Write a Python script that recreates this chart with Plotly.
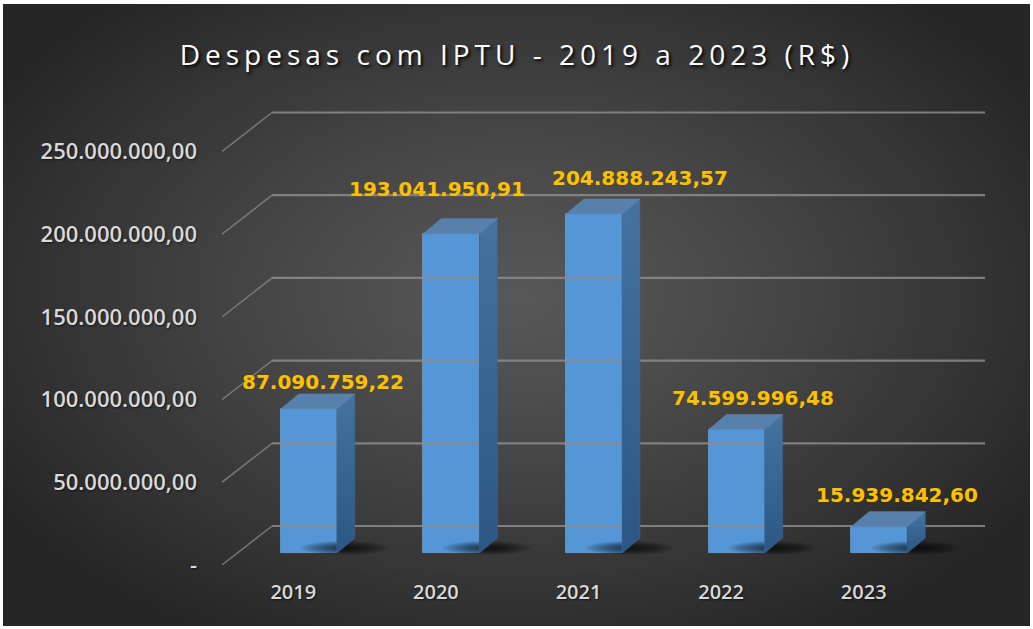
import base64
import struct
import zlib

import numpy as np
import plotly.graph_objects as go

# ---------------- data ----------------
YEARS = ["2019", "2020", "2021", "2022", "2023"]
VALUES = [87090759.22, 193041950.91, 204888243.57, 74599996.48, 15939842.60]
Y_TICKS = [0, 50e6, 100e6, 150e6, 200e6, 250e6]
Y_TICK_TEXT = ["-", "50.000.000,00", "100.000.000,00", "150.000.000,00",
               "200.000.000,00", "250.000.000,00"]
TITLE = "Despesas com IPTU - 2019 a 2023 (R$)"


def fmt_br(v):
    s = f"{v:,.2f}"
    return s.replace(",", "X").replace(".", ",").replace("X", ".")


LABELS = [fmt_br(v) for v in VALUES]

# ---------------- geometry (pixels -> axis units) ----------------
W, H = 1033, 629
PX_CAT = 142.6               # px per category
PX_VAL = 82.7 / 50e6         # px per real
LEFT_PX = 222                # front-plane left edge
BOTTOM_PX = 578              # bottom of plot area
ZERO_PX = 565                # front plane zero

DX = 50 / PX_CAT             # wall depth (x)
DV = 39 / PX_VAL             # wall depth (value)
FO_X, FO_V = 15.5 / PX_CAT, 12 / PX_VAL   # bar front-face offset
BD_X, BD_V = 18 / PX_CAT, 15 / PX_VAL     # bar depth
BW = 56 / PX_CAT                           # bar width

x_range = [-0.5, -0.5 + (W - LEFT_PX) / PX_CAT]
y_range = [-(BOTTOM_PX - ZERO_PX) / PX_VAL, ZERO_PX / PX_VAL]

LABEL_DX = [5, -23, 37, 7, 9]
LABEL_DY = [12, 30, 21, 17, 17]

# ---------------- background gradient image ----------------
gw, gh = 207, 126
yy, xx = np.mgrid[0:gh, 0:gw]
dx = (xx / (gw - 1) - 0.5) / 0.5
dy = (yy / (gh - 1) - 0.47) / 0.53
r = np.sqrt(dx ** 2 + dy ** 2) / np.sqrt(2)
t = np.clip(r / 0.85, 0, 1) ** 1.2
c = (88 - 50 * t).astype(np.uint8)
rgb = np.stack([c, c, c], axis=-1)
raw = b"".join(b"\x00" + rgb[i].tobytes() for i in range(gh))


def chunk(tag, data):
    return (struct.pack(">I", len(data)) + tag + data +
            struct.pack(">I", zlib.crc32(tag + data) & 0xffffffff))


png = (b"\x89PNG\r\n\x1a\n" +
       chunk(b"IHDR", struct.pack(">IIBBBBB", gw, gh, 8, 2, 0, 0, 0)) +
       chunk(b"IDAT", zlib.compress(raw, 9)) + chunk(b"IEND", b""))
bg_uri = "data:image/png;base64," + base64.b64encode(png).decode()

fig = go.Figure()

# ---------------- gridlines (back wall + side wall diagonals) ----------------
gx, gy = [], []
for v in Y_TICKS:
    gx += [-0.5 + DX, 4.5 + DX, None]
    gy += [v + DV, v + DV, None]
fig.add_trace(go.Scatter(x=gx, y=gy, mode="lines", hoverinfo="skip",
                         line=dict(color="rgba(140,140,140,0.85)", width=2.2),
                         showlegend=False))
dxl, dyl = [], []
for v in Y_TICKS:
    dxl += [-0.5, -0.5 + DX, None]
    dyl += [v, v + DV, None]
fig.add_trace(go.Scatter(x=dxl, y=dyl, mode="lines", hoverinfo="skip",
                         line=dict(color="rgba(140,140,140,0.75)", width=1.5),
                         showlegend=False))

# ---------------- bar shadows (soft, layered) ----------------
ang = np.linspace(0, 2 * np.pi, 48)
for i in range(len(YEARS)):
    xc = i + FO_X + BW / 2 + 8 / PX_CAT
    yc = FO_V + 5 / PX_VAL
    for k in range(9):
        s = 1.0 - k * 0.09
        fig.add_trace(go.Scatter(
            x=list(xc + (44 / PX_CAT) * s * np.cos(ang)),
            y=list(yc + (7 / PX_VAL) * s * np.sin(ang)),
            mode="lines", fill="toself", line=dict(width=0, color="rgba(0,0,0,0)"),
            fillcolor="rgba(0,0,0,0.085)", hoverinfo="skip", showlegend=False))

# ---------------- 3D side and top faces ----------------
for i, v in enumerate(VALUES):
    xl = i + FO_X - BW / 2
    xr = i + FO_X + BW / 2
    b = FO_V
    fig.add_trace(go.Scatter(
        x=[xr, xr + BD_X, xr + BD_X, xr, xr],
        y=[b, b + BD_V, b + v + BD_V, b + v, b],
        mode="lines", fill="toself", line=dict(width=0.6, color="#3a6899"),
        fillgradient=dict(type="vertical",
                          colorscale=[[0, "#2c5784"], [1, "#45729f"]]),
        hoverinfo="skip", showlegend=False))
    fig.add_trace(go.Scatter(
        x=[xl, xl + BD_X, xr + BD_X, xr, xl],
        y=[b + v, b + v + BD_V, b + v + BD_V, b + v, b + v],
        mode="lines", fill="toself", line=dict(width=0.6, color="#5f89b6"),
        fillcolor="#5880ad", hoverinfo="skip", showlegend=False))

# ---------------- bars (front faces) ----------------
fig.add_trace(go.Bar(
    x=[i + FO_X for i in range(len(YEARS))], y=VALUES, base=FO_V,
    width=BW, marker=dict(color="#5596d6", line=dict(width=0.8, color="#6aa5de")),
    hovertext=LABELS, hoverinfo="text", showlegend=False))

# ---------------- data labels ----------------
annotations = []
for i, v in enumerate(VALUES):
    annotations.append(dict(
        x=i + FO_X + BD_X / 2, y=FO_V + v + BD_V, xref="x", yref="y",
        text=LABELS[i], showarrow=False, xanchor="center", yanchor="middle",
        xshift=LABEL_DX[i], yshift=LABEL_DY[i],
        font=dict(family="DejaVu Sans", size=20, color="#ffc000", weight="bold")))

tick_font = dict(family="Open Sans", size=22, color="#d9d9d9", weight=600,
                 shadow="1px 1px 2px rgba(0,0,0,0.6)")

fig.update_layout(
    width=W, height=H, autosize=False,
    margin=dict(l=0, r=0, t=0, b=0, pad=0),
    paper_bgcolor="white", plot_bgcolor="rgba(0,0,0,0)",
    showlegend=False, bargap=0,
    title=dict(
        text=f'<span style="letter-spacing:5px">{TITLE}</span>',
        x=517 / W, xanchor="center", y=1 - 55 / H, yanchor="middle",
        xref="paper", yref="paper",
        font=dict(family="Open Sans", size=28, color="white",
                  shadow="2px 2px 3px rgba(0,0,0,0.9)")),
    xaxis=dict(domain=[LEFT_PX / W, 1], range=x_range, tickvals=list(range(len(YEARS))),
               ticktext=YEARS, showgrid=False, zeroline=False, showline=False,
               ticks="", tickfont=dict(tick_font, size=20), fixedrange=True),
    yaxis=dict(domain=[(H - BOTTOM_PX) / H, 1], range=y_range, tickvals=Y_TICKS,
               ticktext=Y_TICK_TEXT, showgrid=False, zeroline=False, showline=False,
               ticks="", ticklabelstandoff=24, tickfont=tick_font, fixedrange=True),
    annotations=annotations,
    images=[dict(source=bg_uri, xref="paper", yref="paper", x=3 / W, y=1 - 4 / H,
                 sizex=1027 / W, sizey=622 / H, xanchor="left", yanchor="top",
                 sizing="stretch", layer="below")],
)

fig.write_html("out.html", config={"displayModeBar": False},
               post_script="document.body.style.margin='0px';document.body.style.overflow='hidden';")
